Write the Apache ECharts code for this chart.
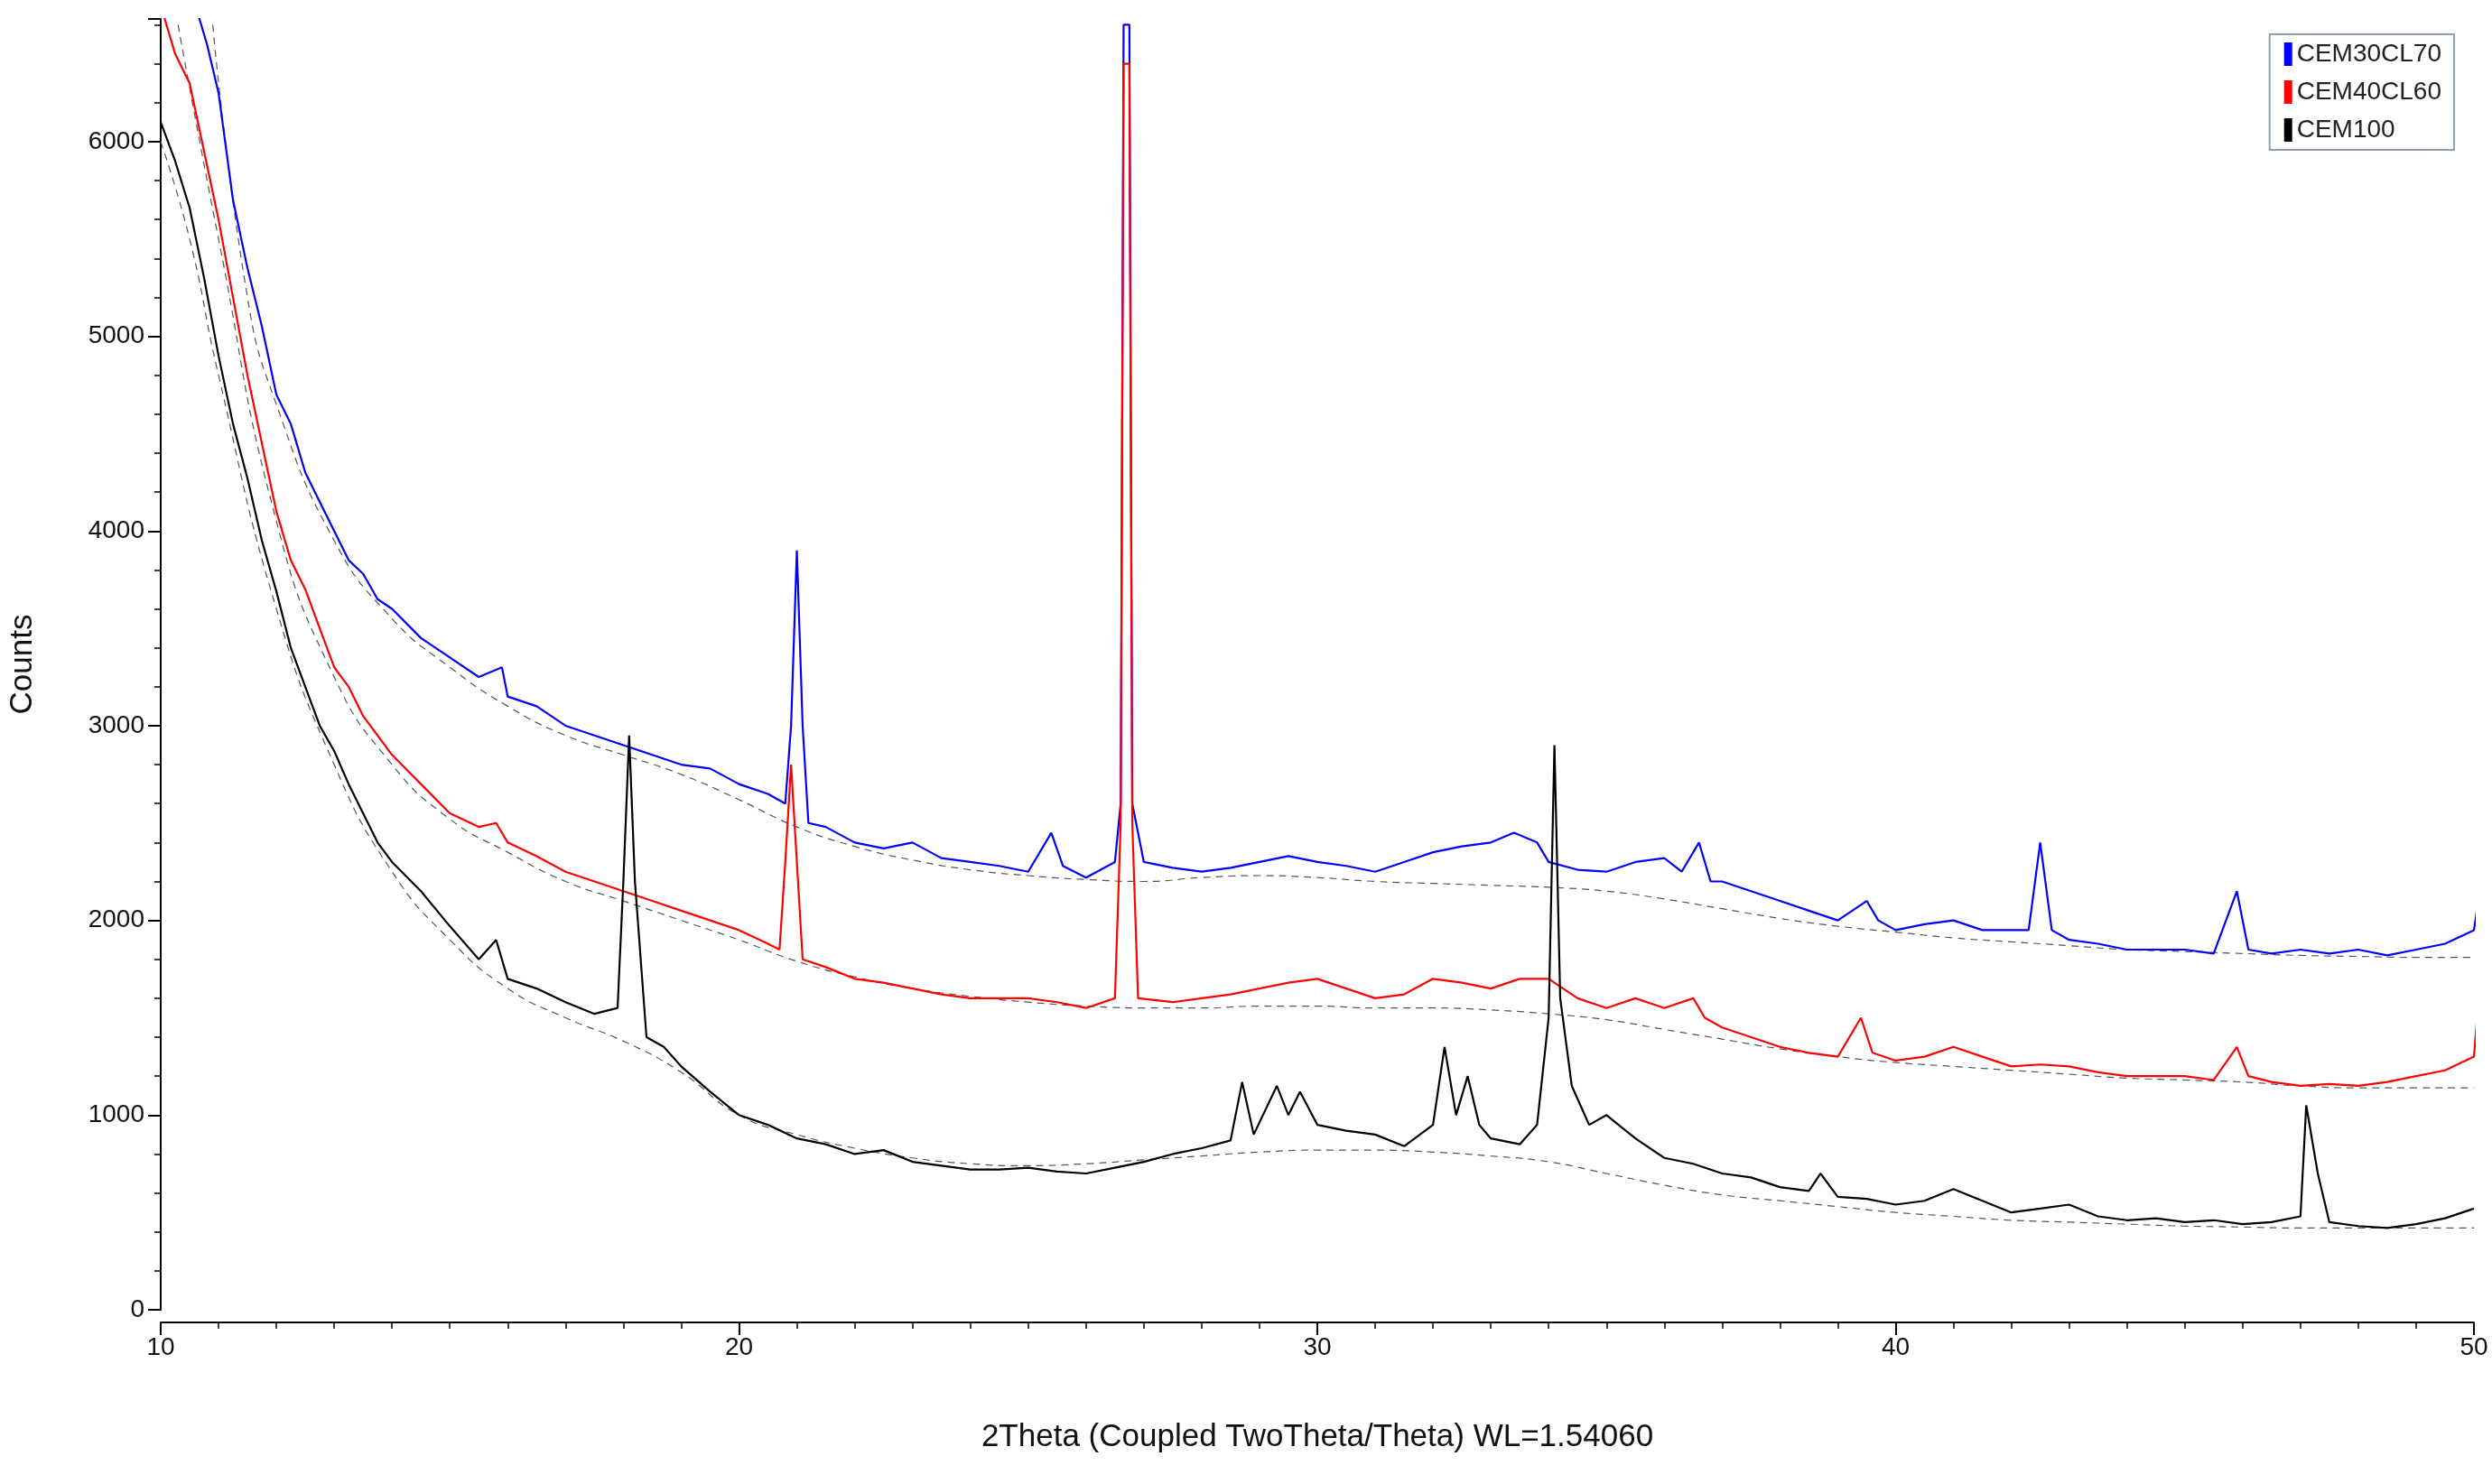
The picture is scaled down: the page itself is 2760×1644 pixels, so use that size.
<!DOCTYPE html>
<html>
<head>
<meta charset="utf-8">
<script src="https://cdn.jsdelivr.net/npm/echarts@6/dist/echarts.min.js"></script>
<style>html,body{margin:0;padding:0;background:#fff}#chart{width:2760px;height:1644px}</style>
</head>
<body>
<div id="chart"></div>
<script>
// 2Theta / Counts pairs
var cem30 = [[10.6,6700],[10.8,6500],[11,6250],[11.25,5700],[11.5,5350],[11.75,5050],[12,4700],[12.25,4550],[12.5,4300],[12.75,4150],[13,4000],[13.25,3850],[13.5,3780],[13.75,3650],[14,3600],[14.5,3450],[15,3350],[15.5,3250],[15.9,3300],[16,3150],[16.5,3100],[17,3000],[17.5,2950],[18,2900],[18.5,2850],[19,2800],[19.5,2780],[20,2700],[20.5,2650],[20.8,2600],[20.9,3000],[21,3900],[21.1,3000],[21.2,2500],[21.5,2480],[22,2400],[22.5,2370],[23,2400],[23.5,2320],[24,2300],[24.5,2280],[25,2250],[25.4,2450],[25.6,2280],[26,2220],[26.5,2300],[26.6,2600],[26.65,6600],[26.75,6600],[26.8,2600],[27,2300],[27.5,2270],[28,2250],[28.5,2270],[29,2300],[29.5,2330],[30,2300],[30.5,2280],[31,2250],[31.5,2300],[32,2350],[32.5,2380],[33,2400],[33.4,2450],[33.8,2400],[34,2300],[34.5,2260],[35,2250],[35.5,2300],[36,2320],[36.3,2250],[36.6,2400],[36.8,2200],[37,2200],[37.5,2150],[38,2100],[38.5,2050],[39,2000],[39.5,2100],[39.7,2000],[40,1950],[40.5,1980],[41,2000],[41.5,1950],[42,1950],[42.3,1950],[42.5,2400],[42.7,1950],[43,1900],[43.5,1880],[44,1850],[44.5,1850],[45,1850],[45.5,1830],[45.9,2150],[46.1,1850],[46.5,1830],[47,1850],[47.5,1830],[48,1850],[48.5,1820],[49,1850],[49.5,1880],[50,1950],[50.05,2050]];
var cem40 = [[10,6700],[10.25,6450],[10.5,6300],[10.75,5950],[11,5600],[11.25,5200],[11.5,4800],[11.75,4450],[12,4100],[12.25,3850],[12.5,3700],[12.75,3500],[13,3300],[13.25,3200],[13.5,3050],[13.75,2950],[14,2850],[14.5,2700],[15,2550],[15.5,2480],[15.8,2500],[16,2400],[16.5,2330],[17,2250],[17.5,2200],[18,2150],[18.5,2100],[19,2050],[19.5,2000],[20,1950],[20.5,1880],[20.7,1850],[20.8,2300],[20.9,2800],[21,2300],[21.1,1800],[21.5,1760],[22,1700],[22.5,1680],[23,1650],[23.5,1620],[24,1600],[24.5,1600],[25,1600],[25.5,1580],[26,1550],[26.5,1600],[26.6,2500],[26.65,6400],[26.75,6400],[26.8,2500],[26.9,1600],[27.5,1580],[28,1600],[28.5,1620],[29,1650],[29.5,1680],[30,1700],[30.5,1650],[31,1600],[31.5,1620],[32,1700],[32.5,1680],[33,1650],[33.5,1700],[34,1700],[34.5,1600],[35,1550],[35.5,1600],[36,1550],[36.5,1600],[36.7,1500],[37,1450],[37.5,1400],[38,1350],[38.5,1320],[39,1300],[39.4,1500],[39.6,1320],[40,1280],[40.5,1300],[41,1350],[41.5,1300],[42,1250],[42.5,1260],[43,1250],[43.5,1220],[44,1200],[44.5,1200],[45,1200],[45.5,1180],[45.9,1350],[46.1,1200],[46.5,1170],[47,1150],[47.5,1160],[48,1150],[48.5,1170],[49,1200],[49.5,1230],[50,1300],[50.05,1480]];
var cem100 = [[10,6100],[10.25,5900],[10.5,5660],[10.75,5300],[11,4900],[11.25,4550],[11.5,4270],[11.75,3950],[12,3690],[12.25,3400],[12.5,3200],[12.75,3000],[13,2870],[13.25,2700],[13.5,2550],[13.75,2400],[14,2300],[14.5,2150],[15,1970],[15.5,1800],[15.8,1900],[16,1700],[16.5,1650],[17,1580],[17.5,1520],[17.9,1550],[18,2200],[18.1,2950],[18.2,2200],[18.4,1400],[18.7,1350],[19,1250],[19.5,1120],[20,1000],[20.5,950],[21,880],[21.5,850],[22,800],[22.5,820],[23,760],[23.5,740],[24,720],[24.5,720],[25,730],[25.5,710],[26,700],[26.5,730],[27,760],[27.5,800],[28,830],[28.5,870],[28.7,1170],[28.9,900],[29.3,1150],[29.5,1000],[29.7,1120],[30,950],[30.5,920],[31,900],[31.5,840],[32,950],[32.2,1350],[32.4,1000],[32.6,1200],[32.8,950],[33,880],[33.5,850],[33.8,950],[34,1500],[34.1,2900],[34.2,1600],[34.4,1150],[34.7,950],[35,1000],[35.5,880],[36,780],[36.5,750],[37,700],[37.5,680],[38,630],[38.5,610],[38.7,700],[39,580],[39.5,570],[40,540],[40.5,560],[41,620],[41.5,560],[42,500],[42.5,520],[43,540],[43.5,480],[44,460],[44.5,470],[45,450],[45.5,460],[46,440],[46.5,450],[47,480],[47.1,1050],[47.3,700],[47.5,450],[48,430],[48.5,420],[49,440],[49.5,470],[50,520]];
var bg30 = [[10.9,6600],[11.5,5200],[12,4650],[13,3950],[14,3550],[15,3300],[16,3100],[17,2950],[18,2850],[19,2750],[20,2620],[21,2480],[22,2380],[23,2310],[24,2260],[25,2230],[26,2210],[27,2200],[28,2220],[29,2230],[30,2220],[31,2200],[32,2190],[33,2180],[34,2170],[35,2150],[36,2110],[37,2060],[38,2010],[39,1970],[40,1940],[41,1910],[42,1890],[43,1870],[44,1850],[45,1840],[46,1830],[47,1820],[48,1815],[49,1810],[50,1810]];
var bg40 = [[10.3,6600],[11,5500],[12,4050],[13,3250],[14,2800],[15,2520],[16,2350],[17,2200],[18,2100],[19,2000],[20,1900],[21,1790],[22,1710],[23,1650],[24,1610],[25,1580],[26,1560],[27,1550],[28,1550],[29,1560],[30,1560],[31,1550],[32,1550],[33,1540],[34,1520],[35,1490],[36,1440],[37,1390],[38,1340],[39,1300],[40,1270],[41,1250],[42,1230],[43,1210],[44,1190],[45,1180],[46,1170],[47,1150],[48,1140],[49,1140],[50,1140]];
var bg100 = [[10,6000],[10.5,5500],[11,4800],[12,3600],[13,2800],[14,2250],[15,1900],[16,1650],[17,1500],[18,1380],[19,1220],[20,1000],[21,900],[22,830],[23,780],[24,750],[25,740],[26,750],[27,770],[28,790],[29,810],[30,820],[31,820],[32,810],[33,790],[34,760],[35,700],[36,640],[37,590],[38,560],[39,530],[40,500],[41,480],[42,460],[43,450],[44,440],[45,430],[46,425],[47,420],[48,420],[49,420],[50,420]];

function line(name, data, color) {
  return {name: name, type: 'line', data: data, showSymbol: false, smooth: false,
    lineStyle: {color: color, width: 2.2}, itemStyle: {color: color}, z: 3};
}
function bg(data) {
  return {type: 'line', data: data, showSymbol: false, smooth: true, silent: true,
    lineStyle: {color: '#555', width: 1.2, type: [8, 6]}, z: 2};
}

var chart = echarts.init(document.getElementById('chart'));
chart.setOption({
  animation: false,
  backgroundColor: '#fff',
  grid: {left: 177, right: 20, top: 21, bottom: 193},
  legend: {
    orient: 'vertical', right: 42, top: 38, itemGap: 14,
    icon: 'rect', itemWidth: 9, itemHeight: 26,
    padding: [8, 14, 8, 16], borderColor: '#8ea0b4', borderWidth: 2,
    textStyle: {fontFamily: 'Arial, Liberation Sans', fontSize: 28, color: '#222'},
    data: ['CEM30CL70', 'CEM40CL60', 'CEM100']
  },
  xAxis: {
    type: 'value', min: 10, max: 50, interval: 10, offset: 14,
    name: '2Theta (Coupled TwoTheta/Theta) WL=1.54060', nameLocation: 'middle', nameGap: 110,
    nameTextStyle: {fontFamily: 'Arial, Liberation Sans', fontSize: 35, color: '#111'},
    axisLine: {onZero: false, lineStyle: {color: '#000', width: 2}},
    axisTick: {length: 14, lineStyle: {color: '#000', width: 2}},
    minorTick: {show: true, splitNumber: 10, length: 7, lineStyle: {color: '#000', width: 1.5}},
    axisLabel: {fontFamily: 'Arial, Liberation Sans', fontSize: 28, color: '#111', margin: 14},
    splitLine: {show: false}
  },
  yAxis: {
    type: 'value', min: 0, max: 6630, interval: 1000,
    name: 'Counts', nameLocation: 'middle', nameGap: 135, nameRotate: 90,
    nameTextStyle: {fontFamily: 'Arial, Liberation Sans', fontSize: 35, color: '#111'},
    axisLine: {show: true, lineStyle: {color: '#000', width: 2}},
    axisTick: {show: true, length: 14, lineStyle: {color: '#000', width: 2}},
    minorTick: {show: true, splitNumber: 5, length: 7, lineStyle: {color: '#000', width: 1.5}},
    axisLabel: {fontFamily: 'Arial, Liberation Sans', fontSize: 28, color: '#111', margin: 18,
      showMaxLabel: false,
      formatter: function (v) { return v % 1000 === 0 ? String(v) : ''; }},
    splitLine: {show: false}
  },
  series: [
    bg(bg30), bg(bg40), bg(bg100),
    line('CEM30CL70', cem30, '#0000ff'),
    line('CEM40CL60', cem40, '#ff0000'),
    line('CEM100', cem100, '#000000')
  ]
});
</script>
</body>
</html>
